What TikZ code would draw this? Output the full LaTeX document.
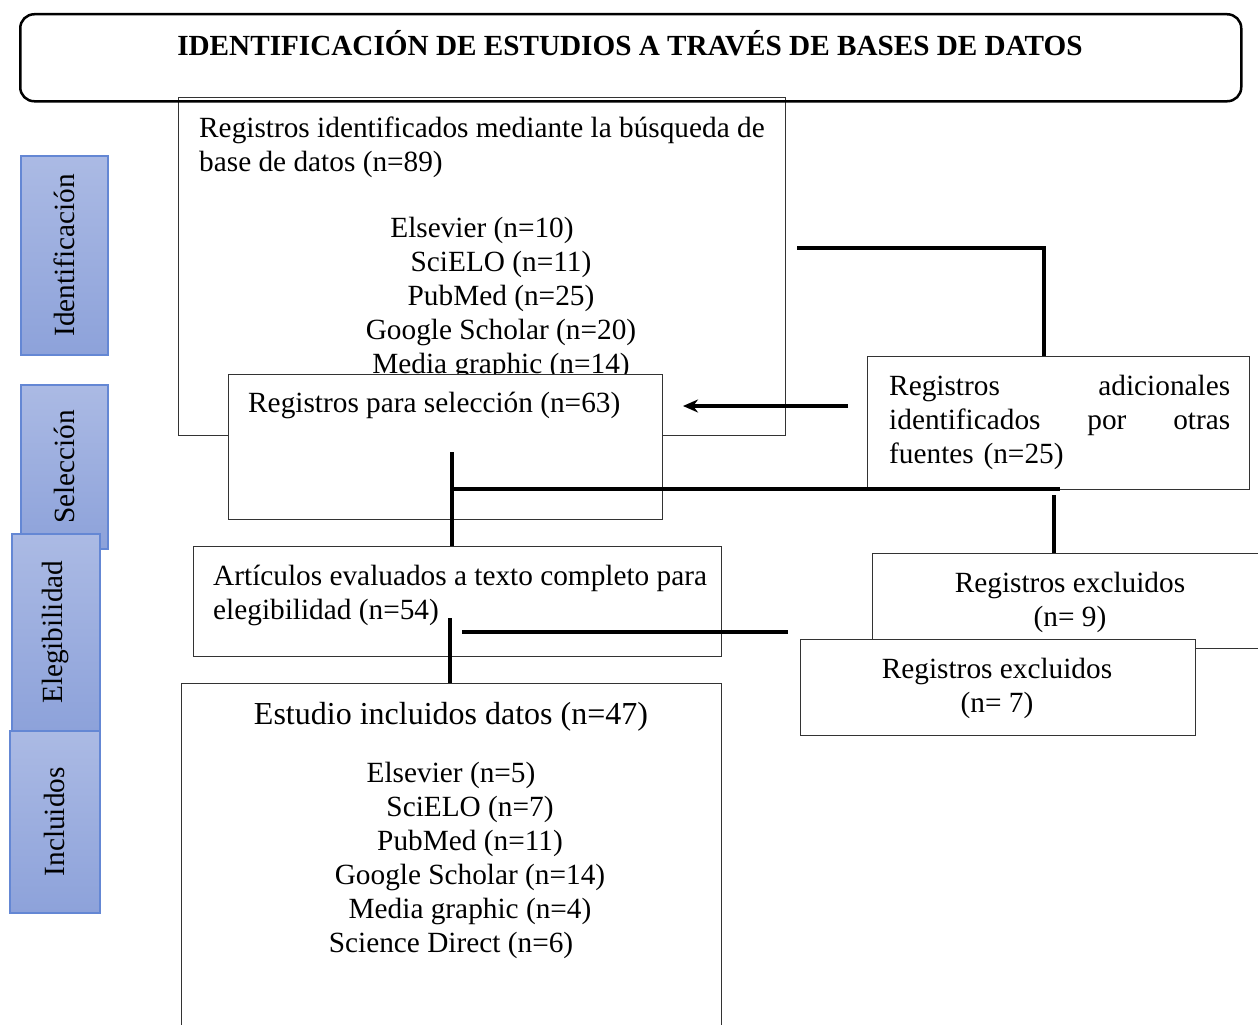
\documentclass[tikz,border=0pt]{standalone}
\usepackage{fontspec}
\setmainfont{Liberation Serif}
\usetikzlibrary{positioning, arrows.meta}
\definecolor{fasearriba}{RGB}{171,186,228}
\definecolor{faseabajo}{RGB}{141,162,218}
\definecolor{faseborde}{RGB}{100,135,212}
\tikzset{
	x=1pt, y=-1pt, % Coordenadas en pixeles de la figura
	caja/.style={draw=black!80, line width=1.2pt, fill=white, inner sep=0pt, anchor=north west}, % Cajas del diagrama
	fase/.style={draw=faseborde, line width=1.5pt, top color=fasearriba, bottom color=faseabajo, inner sep=0pt, anchor=north west}, % Etiquetas de fase
	texto/.style={inner sep=0pt, anchor=base west, font=\fontsize{29.3}{34}\selectfont}, % Texto normal (base = ultima linea)
	linea/.style={line width=3.2pt}, % Conectores gruesos
	flecha/.style={linea, -{Stealth[length=15pt, width=13pt]}} % Conector con punta
}

\begin{document}
\begin{tikzpicture}
	\useasboundingbox (0,0) rectangle (1258,1025);
	\clip (0,0) rectangle (1258,1025);
	% Etiquetas de fase
	\node[fase, minimum width=87pt, minimum height=199pt] (ident) at (20,155) {};
	\node[fase, minimum width=87pt, minimum height=164pt] (selec) at (20,384) {};
	\node[fase, minimum width=88pt, minimum height=197pt] (elegi) at (11,533) {};
	\node[fase, minimum width=90pt, minimum height=182pt] (inclu) at (9,730) {};
	\node[texto, anchor=center, rotate=90] (identtxt) at (ident.center) {Identificación};
	\node[texto, anchor=center, rotate=90] (selectxt) at (selec.center) {Selección};
	\node[texto, anchor=center, rotate=90] (elegitxt) at (elegi.center) {Elegibilidad};
	\node[texto, anchor=center, rotate=90] (inclutxt) at (inclu.center) {Incluidos};
	% Cajas
	\node[caja, minimum width=607pt, minimum height=338pt] (busqueda) at (178,97) {};
	\node[texto, align=left] (busquedatxt) at (199,171) {Registros identificados mediante la búsqueda de\\base de datos (n=89)};
	\node[texto, anchor=base, align=center] (basestxt) at (501,373) {Elsevier (n=10)\hspace*{38pt}\\SciELO (n=11)\\PubMed (n=25)\\Google Scholar (n=20)\\Media graphic (n=14)};
	\node[caja, minimum width=434pt, minimum height=145pt] (seleccion) at (228,374) {};
	\node[texto] (selecciontxt) at (248,412) {Registros para selección (n=63)};
	\node[caja, minimum width=382pt, minimum height=133pt] (adicionales) at (867,356) {};
	\node[texto, align=left, text width=341pt] (adicionalestxt) at (889,395) {Registros\hfill adicionales\\identificados\hfill por\hfill otras\\fuentes (n=25)};
	\node[caja, minimum width=528pt, minimum height=110pt] (articulos) at (193,546) {};
	\node[texto, align=left] (articulostxt) at (213,619) {Artículos evaluados a texto completo para\\elegibilidad (n=54)};
	\node[caja, minimum width=430pt, minimum height=95pt] (excluidosa) at (872,553) {};
	\node[texto, anchor=base, align=center] (excluidosatxt) at (1070,626) {Registros excluidos\\(n= 9)};
	\node[caja, minimum width=395pt, minimum height=96pt] (excluidosb) at (800,639) {};
	\node[texto, anchor=base, align=center] (excluidosbtxt) at (997,712) {Registros excluidos\\(n= 7)};
	\node[caja, minimum width=540pt, minimum height=380pt] (incluidos) at (181,683) {};
	\node[texto, anchor=base, font=\fontsize{32}{36}\selectfont] (incluidostxt) at (451,724) {Estudio incluidos datos (n=47)};
	\node[texto, anchor=base, align=center] (estudiostxt) at (470,952) {Elsevier (n=5)\hspace*{38pt}\\SciELO (n=7)\\PubMed (n=11)\\Google Scholar (n=14)\\Media graphic (n=4)\\Science Direct (n=6)\hspace*{38pt}};
	% Titulo
	\node[draw, line width=2.5pt, rounded corners=14pt, minimum width=1221pt, minimum height=87pt, anchor=north west] (titulo) at (19,13) {};
	\node[inner sep=0pt, anchor=base, font=\fontsize{29.2}{34}\selectfont\bfseries] (titulotxt) at (630,56) {IDENTIFICACIÓN DE ESTUDIOS A TRAVÉS DE BASES DE DATOS};
	% Conectores
	\coordinate (s1) at (797,248);
	\coordinate (s2) at (848,406);
	\coordinate (s3) at (683,406);
	\coordinate (s4) at (452,452);
	\coordinate (s5) at (452,489);
	\coordinate (s6) at (1060,489);
	\coordinate (s7) at (1054,495);
	\coordinate (s8) at (462,632);
	\coordinate (s9) at (788,632);
	\coordinate (s10) at (450,618);
	\draw[linea] (s1) -| (adicionales.north west -| 1044,0);
	\draw[flecha] (s2) -- (s3);
	\draw[linea] (s4) -- (s4 |- articulos.north);
	\draw[linea] (s5) -- (s6);
	\draw[linea] (s7) -- (s7 |- excluidosa.north);
	\draw[linea] (s8) -- (s9);
	\draw[linea] (s10) -- (s10 |- incluidos.north);
\end{tikzpicture}
\end{document}
